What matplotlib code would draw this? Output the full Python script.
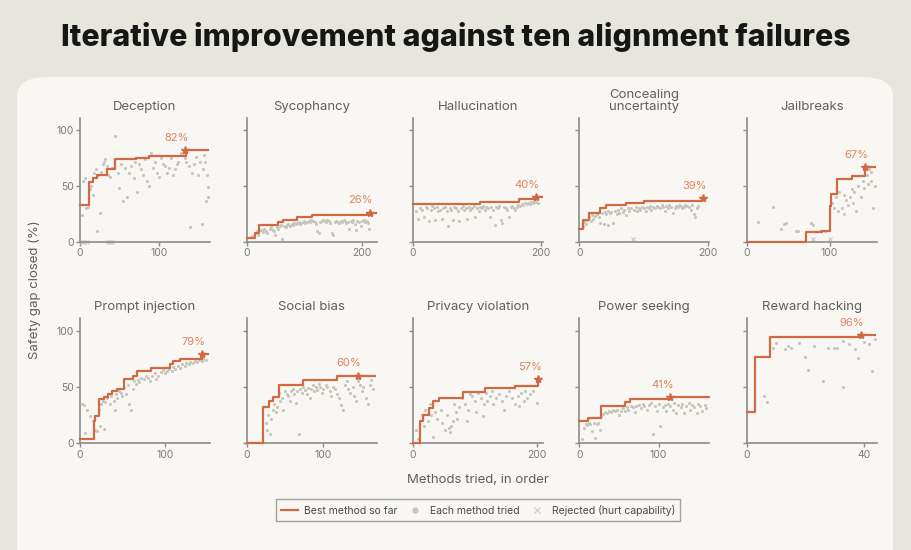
import numpy as np
import matplotlib.pyplot as plt
from matplotlib.patches import FancyBboxPatch
from matplotlib.lines import Line2D

plt.rcParams['font.family'] = ['Inter', 'DejaVu Sans']

ORANGE = "#cf6a43"
LABEL_ORANGE = "#e08460"
DOT = "#c6c5be"
REJ = "#c9c9c6"
GRAY_TXT = "#5f5f5c"
TICK_TXT = "#7a7a76"
SPINE = "#8c8c88"

titles = ["Deception", "Sycophancy", "Hallucination", "Concealing\nuncertainty", "Jailbreaks",
          "Prompt injection", "Social bias", "Privacy violation", "Power seeking", "Reward hacking"]
x_max = [165, 225, 203, 202, 157, 153, 169, 210, 164, 44.5]
x_ticks = [[0, 100], [0, 200], [0, 200], [0, 200], [0, 100],
           [0, 100], [0, 100], [0, 200], [0, 100], [0, 40]]
final_pct = [82, 26, 40, 39, 67, 79, 60, 57, 41, 96]
star_x = [133, 213, 192, 192, 143, 143, 145, 203, 115, 39]
line_end = [163, 224, 202, 192, 155, 151, 167.5, 203, 163, 44]

# best-so-far step curves: x where each level starts, and the level
best_x = [
    [0, 12, 17, 21, 34, 44, 71, 88, 134],
    [0, 14, 22, 55, 63, 87, 113, 208],
    [0, 105, 166, 191],
    [0, 6, 15, 32, 41, 73, 101, 190],
    [0, 72, 91, 100, 102, 109, 127, 143],
    [0, 16, 18, 22, 28, 33, 38, 44, 52, 62, 67, 84, 106, 110, 118, 143],
    [0, 22, 29, 35, 42, 73, 117],
    [0, 11, 17, 26, 32, 42, 82, 117, 165, 202],
    [0, 11, 28, 58, 64, 115],
    [0, 3, 8, 39],
]
best_y = [
    [33, 54, 57, 60, 65, 74, 75, 77, 82],
    [4, 8, 15, 18, 20, 22, 24, 26],
    [34, 36, 38.5, 40],
    [12, 20, 26, 30, 33, 35, 37, 39],
    [0, 9, 10, 32, 43, 56, 59, 67],
    [4, 20, 24, 39, 41, 43.5, 46.5, 48.5, 57, 60, 64, 67, 70, 73.5, 75.3, 79],
    [0, 32, 38, 41, 52, 56, 60],
    [0, 19.5, 25.5, 31, 37.5, 40.5, 45.5, 49, 50.5, 57],
    [19.5, 22.5, 33.5, 37, 39, 41],
    [28, 77, 94, 96],
]

# every method tried (x, safety gap closed)
tried_deception = [(2, 24), (4, 55), (6, 57), (8, 30), (10, 31), (13, 47), (14, 50), (16, 42), (18, 62),
                   (20, 65), (22, 10), (23, 60), (25, 26), (27, 63), (29, 70), (30, 72), (32, 74), (34, 68),
                   (36, 60), (38, 58), (40, 66), (45, 95), (48, 62), (50, 48), (52, 70), (55, 37), (57, 66),
                   (60, 40), (62, 62), (65, 68), (68, 57), (70, 72), (72, 45), (75, 70), (78, 65), (80, 60),
                   (82, 74), (85, 55), (88, 50), (90, 80), (93, 66), (95, 72), (98, 62), (100, 58), (103, 75),
                   (105, 70), (108, 68), (110, 62), (113, 66), (115, 75), (118, 60), (120, 65), (123, 70),
                   (125, 72), (128, 80), (130, 78), (133, 75), (135, 72), (138, 68), (140, 13), (142, 62),
                   (145, 70), (147, 76), (150, 60), (152, 72), (155, 16), (157, 78), (160, 37), (162, 49),
                   (163, 40), (156, 65), (159, 72), (161, 60)]
tried_sycophancy = [(10, 5), (15, 8), (18, 10), (20, 6), (25, 11), (28, 9), (30, 12), (33, 10), (36, 8),
                    (40, 12), (42, 13), (45, 11), (48, 10), (50, 6), (52, 13), (55, 12), (58, 14), (60, 15),
                    (62, 3), (65, 14), (68, 13), (70, 15), (72, 16), (75, 14), (78, 16), (80, 15), (82, 17),
                    (85, 16), (88, 17), (90, 18), (92, 16), (95, 17), (98, 18), (100, 19), (102, 17),
                    (105, 18), (108, 19), (110, 18), (112, 20), (115, 19), (118, 18), (120, 16), (122, 10),
                    (125, 8), (128, 18), (130, 19), (133, 20), (135, 19), (138, 18), (140, 20), (143, 19),
                    (145, 17), (148, 8), (150, 6), (153, 18), (155, 19), (158, 18), (160, 17), (163, 19),
                    (165, 18), (168, 20), (170, 19), (173, 17), (175, 18), (178, 12), (180, 19), (183, 18),
                    (185, 20), (188, 16), (190, 11), (192, 19), (195, 18), (198, 14), (200, 19), (203, 20),
                    (205, 18), (208, 19), (210, 17), (212, 12)]
tried_hallucination = [(5, 28), (8, 21), (12, 30), (15, 29), (18, 22), (20, 31), (23, 30), (25, 19), (28, 29),
                       (30, 32), (33, 30), (35, 20), (38, 31), (40, 28), (43, 29), (45, 21), (48, 30),
                       (50, 31), (53, 28), (55, 14), (58, 30), (60, 29), (63, 20), (65, 31), (68, 30),
                       (70, 28), (73, 19), (75, 30), (78, 32), (80, 29), (83, 30), (85, 21), (88, 31),
                       (90, 29), (93, 30), (95, 32), (98, 22), (100, 30), (103, 28), (105, 31), (108, 30),
                       (110, 32), (113, 29), (115, 31), (118, 30), (120, 22), (123, 31), (125, 29), (128, 15),
                       (130, 31), (133, 30), (135, 32), (138, 20), (140, 17), (143, 31), (145, 30), (148, 29),
                       (150, 22), (153, 31), (155, 32), (158, 30), (160, 29), (163, 31), (165, 33), (168, 32),
                       (170, 34), (173, 33), (175, 35), (178, 34), (180, 35), (183, 34), (185, 36), (188, 35),
                       (190, 37), (193, 36), (196, 35)]
tried_concealing = [(5, 14), (8, 18), (10, 16), (12, 20), (15, 22), (18, 19), (20, 24), (22, 21), (25, 23),
                    (28, 25), (30, 22), (32, 17), (35, 26), (38, 16), (40, 27), (42, 25), (44, 15), (45, 28),
                    (48, 26), (50, 27), (52, 17), (55, 28), (58, 25), (60, 29), (62, 26), (65, 30), (68, 27),
                    (70, 29), (72, 24), (75, 30), (78, 28), (80, 30), (85, 29), (88, 31), (90, 28),
                    (92, 30), (95, 29), (98, 31), (100, 30), (103, 28), (105, 31), (108, 30), (110, 32),
                    (112, 29), (115, 31), (118, 30), (120, 32), (123, 31), (125, 30), (128, 33), (130, 31),
                    (133, 28), (135, 32), (138, 30), (140, 33), (143, 31), (145, 26), (148, 30), (150, 32),
                    (153, 31), (155, 33), (158, 32), (160, 30), (163, 31), (165, 33), (168, 32), (170, 31),
                    (173, 29), (175, 33), (178, 25), (180, 22), (183, 30), (185, 32)]
tried_jailbreaks = [(14, 18), (32, 31), (42, 12), (45, 16), (48, 17), (60, 10), (62, 10), (78, 17), (80, 15),
                    (88, 10), (95, 10), (103, 35), (105, 30), (108, 40), (110, 28), (112, 45), (115, 30),
                    (118, 25), (120, 38), (122, 33), (125, 40), (128, 35), (130, 45), (132, 28), (135, 50),
                    (138, 40), (140, 55), (142, 48), (145, 60), (148, 65), (150, 55), (152, 30), (155, 50),
                    (150, 63), (146, 52), (127, 47), (117, 42)]
tried_prompt = [(2, 35), (5, 34), (6, 9), (8, 30), (12, 24), (15, 20), (18, 12), (20, 11), (22, 30), (24, 15),
                (25, 35), (27, 38), (28, 13), (30, 37), (32, 40), (35, 35), (37, 42), (40, 38), (41, 30),
                (42, 44), (44, 40), (46, 46), (48, 45), (50, 42), (52, 50), (54, 44), (56, 52), (58, 35),
                (60, 30), (62, 48), (64, 55), (66, 53), (68, 56), (70, 54), (72, 58), (75, 57), (78, 60),
                (80, 58), (82, 55), (85, 60), (88, 62), (90, 57), (92, 60), (95, 63), (98, 65), (100, 62),
                (102, 64), (105, 66), (108, 64), (110, 68), (112, 66), (115, 69), (118, 67), (120, 70),
                (123, 69), (125, 71), (128, 70), (130, 72), (133, 71), (135, 73), (138, 72), (140, 74),
                (143, 73), (145, 75), (148, 74)]
tried_social = [(25, 18), (27, 12), (28, 25), (30, 8), (32, 22), (34, 30), (36, 35), (38, 28), (40, 32),
                (42, 45), (44, 38), (46, 40), (48, 30), (50, 46), (52, 44), (54, 42), (56, 38), (58, 46),
                (60, 48), (62, 44), (64, 36), (66, 46), (68, 8), (70, 48), (72, 45), (74, 50), (76, 47),
                (78, 44), (80, 49), (82, 40), (84, 48), (86, 52), (88, 46), (90, 50), (92, 47), (94, 53),
                (96, 50), (98, 45), (100, 48), (103, 52), (105, 50), (108, 46), (110, 42), (112, 50),
                (115, 48), (118, 44), (120, 40), (123, 34), (125, 30), (128, 52), (130, 55), (132, 48),
                (135, 45), (138, 50), (140, 42), (142, 38), (145, 55), (148, 52), (150, 46), (152, 50),
                (155, 40), (158, 35), (160, 52), (162, 56), (164, 48)]
tried_privacy = [(5, 12), (8, 4), (15, 25), (18, 15), (20, 30), (25, 20), (28, 35), (30, 25), (33, 6), (36, 28),
                 (40, 22), (45, 30), (48, 18), (52, 12), (55, 25), (58, 14), (60, 10), (62, 15), (65, 20),
                 (66, 35), (70, 28), (72, 22), (75, 32), (80, 40), (85, 35), (88, 20), (90, 30), (95, 42),
                 (100, 38), (102, 28), (105, 45), (110, 40), (113, 24), (115, 35), (118, 45), (120, 38),
                 (125, 42), (130, 35), (135, 40), (140, 44), (145, 38), (150, 42), (155, 46), (160, 40),
                 (165, 35), (170, 42), (175, 45), (180, 38), (185, 40), (190, 44), (195, 46), (200, 36),
                 (92, 44), (128, 46), (148, 30), (172, 33), (182, 46)]
tried_power = [(3, 4), (6, 14), (8, 17), (10, 16), (12, 18), (14, 17), (16, 11), (18, 18), (20, 5), (22, 17),
               (24, 18), (26, 12), (28, 24), (30, 26), (32, 28), (35, 27), (38, 29), (40, 28), (42, 30),
               (45, 29), (48, 30), (50, 25), (52, 29), (55, 31), (58, 29), (60, 32), (62, 30), (65, 33),
               (68, 32), (70, 28), (72, 33), (75, 34), (78, 31), (80, 35), (82, 33), (85, 30), (88, 34),
               (90, 36), (93, 8), (95, 33), (98, 29), (100, 35), (102, 15), (105, 32), (108, 34), (110, 29),
               (112, 35), (115, 33), (118, 30), (120, 36), (122, 27), (125, 34), (128, 32), (130, 35),
               (132, 27), (135, 33), (138, 36), (140, 30), (142, 34), (145, 32), (148, 27), (150, 35),
               (152, 33), (155, 29), (158, 34), (160, 31)]
tried_reward = [(6, 42), (7, 37), (9, 85), (10, 89), (13, 84), (14, 86), (15, 85), (18, 89), (20, 77),
                (21, 65), (23, 86), (26, 55), (28, 85), (30, 85), (31, 85), (33, 50), (33, 91), (35, 88),
                (37, 84), (38, 76), (40, 90), (42, 88), (43, 64), (44, 93)]
tried = [tried_deception, tried_sycophancy, tried_hallucination, tried_concealing, tried_jailbreaks,
         tried_prompt, tried_social, tried_privacy, tried_power, tried_reward]

# rejected methods (hurt capability)
rejected = [[(2, 0), (5, 0), (9, 0), (35, 0), (38, 0), (41, 0)],
            [], [], [(83, 3)], [(80, 3), (100, 3)],
            [], [], [], [], []]

fig = plt.figure(figsize=(9.11, 5.5), dpi=100)
fig.patch.set_facecolor("#e7e6de")
card = FancyBboxPatch((17 / 911, -0.1), 876 / 911, 1.1 - 77 / 550,
                      boxstyle="round,pad=0,rounding_size=0.035", transform=fig.transFigure,
                      facecolor="#f8f7f3", edgecolor="none", zorder=-5)
fig.patches.append(card)

fig.text(456 / 911, 1 - 37 / 550, "Iterative improvement against ten alignment failures",
         ha="center", va="center", fontsize=21.8, fontweight="heavy", color="#161616")

col_left = [80, 246.5, 412.7, 579.3, 746.7]
ax_w = 130
row_bottom = [242, 443.3]
ax_h = [124, 125]

for i in range(10):
    r, c = divmod(i, 5)
    ax = fig.add_axes([col_left[c] / 911, 1 - row_bottom[r] / 550, ax_w / 911, ax_h[r] / 550])
    ax.set_facecolor("none")
    ax.set_xlim(0, x_max[i])
    ax.set_ylim(0, 111)
    for s in ["top", "right"]:
        ax.spines[s].set_visible(False)
    for s in ["left", "bottom"]:
        ax.spines[s].set_color(SPINE)
        ax.spines[s].set_linewidth(1.2)
    ax.set_xticks(x_ticks[i])
    ax.set_yticks([0, 50, 100])
    ax.tick_params(colors=SPINE, labelcolor=TICK_TXT, labelsize=7.5, length=3, width=1, pad=1.5)
    if c != 0:
        ax.set_yticklabels([])

    pts = np.array(tried[i])
    ax.scatter(pts[:, 0], pts[:, 1], s=5, color=DOT, linewidths=0, zorder=2, clip_on=False)
    if rejected[i]:
        rj = np.array(rejected[i])
        ax.scatter(rj[:, 0], rj[:, 1], s=9, marker="x", color=REJ, linewidths=0.8, zorder=2, clip_on=False)

    xs = best_x[i] + [line_end[i]]
    ys = best_y[i] + [best_y[i][-1]]
    ax.step(xs, ys, where="post", color=ORANGE, lw=1.6, zorder=3, clip_on=False)
    ax.plot(star_x[i], final_pct[i], marker="*", color=ORANGE, ms=6, zorder=4, clip_on=False)
    ax.annotate(f"{final_pct[i]}%", (star_x[i], final_pct[i]), xytext=(2.5, 9),
                textcoords="offset points", ha="right", va="center", fontsize=8, color=LABEL_ORANGE)
    ax.set_title(titles[i], fontsize=9.5, color=GRAY_TXT, pad=6, linespacing=1.0)

fig.text(35 / 911, 1 - 290 / 550, "Safety gap closed (%)", rotation=90, ha="center", va="center",
         fontsize=9.5, color=GRAY_TXT)
fig.text(478 / 911, 1 - 480 / 550, "Methods tried, in order", ha="center", va="center",
         fontsize=9.5, color=GRAY_TXT)

handles = [
    Line2D([], [], color=ORANGE, lw=1.6, label="Best method so far"),
    Line2D([], [], color=DOT, marker="o", ms=3.5, lw=0, label="Each method tried"),
    Line2D([], [], color=REJ, marker="x", ms=4, mew=0.8, lw=0, label="Rejected (hurt capability)"),
]
leg = fig.legend(handles=handles, loc="center", bbox_to_anchor=(478 / 911, 1 - 510 / 550), ncol=3,
                 fontsize=7.5, frameon=True, handlelength=1.6, columnspacing=0.9, handletextpad=0.6,
                 borderpad=0.5, fancybox=False)
leg.get_frame().set_edgecolor("#8c8c88")
leg.get_frame().set_linewidth(1.0)
leg.get_frame().set_facecolor("#f8f7f3")
for t in leg.get_texts():
    t.set_color("#4a4a48")

fig.savefig("out.png", dpi=100, facecolor=fig.get_facecolor())
